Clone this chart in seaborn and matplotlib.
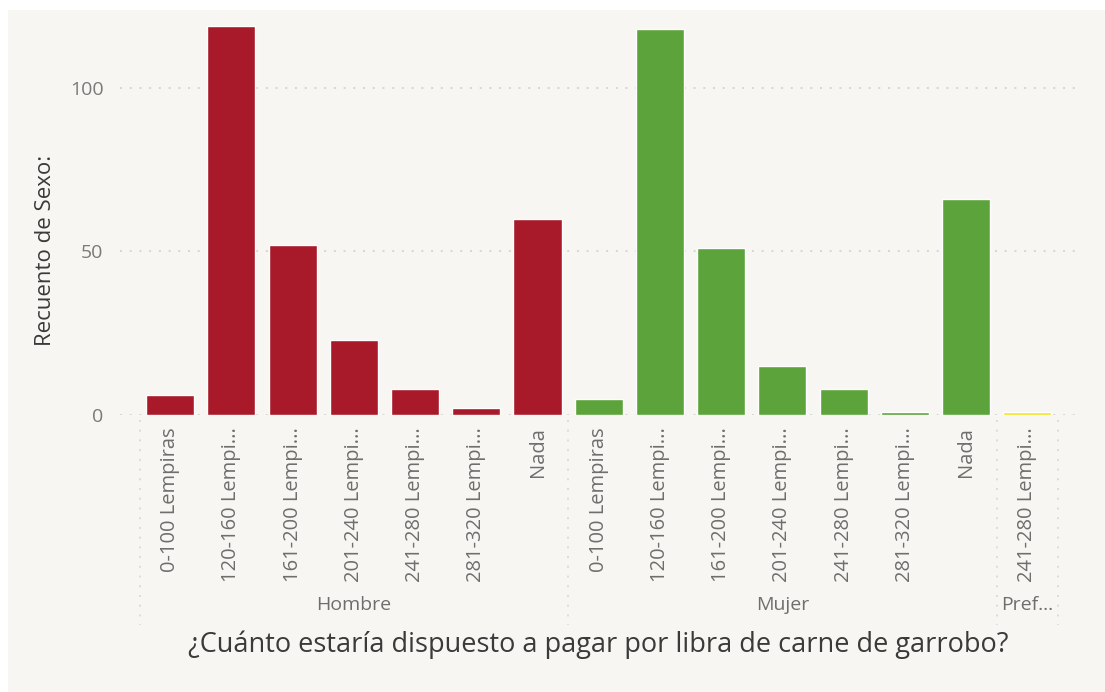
import matplotlib
matplotlib.use("Agg")
import matplotlib.pyplot as plt
import matplotlib.transforms as mtransforms
from matplotlib.patches import Rectangle
import seaborn as sns
import pandas as pd

# ---- data ----
hombre_cats = ["0-100 Lempiras", "120-160 Lempiras", "161-200 Lempiras", "201-240 Lempiras",
               "241-280 Lempiras", "281-320 Lempiras", "Nada"]
hombre_vals = [6, 119, 52, 23, 8, 2, 60]
mujer_cats = ["0-100 Lempiras", "120-160 Lempiras", "161-200 Lempiras", "201-240 Lempiras",
              "241-280 Lempiras", "281-320 Lempiras", "Nada"]
mujer_vals = [5, 118, 51, 15, 8, 1, 66]
pref_cats = ["241-280 Lempiras"]
pref_vals = [1]
group_names = ["Hombre", "Mujer", "Pref..."]
group_colors = ["#A81A29", "#5BA33A", "#F5E61E"]
y_ticks = [0, 50, 100]

groups = [(group_names[0], hombre_cats, hombre_vals),
          (group_names[1], mujer_cats, mujer_vals),
          (group_names[2], pref_cats, pref_vals)]
rows = []
for g, cats, vals in groups:
    for c, v in zip(cats, vals):
        rows.append({"key": f"{g}|{c}", "sexo": g, "cat": c, "count": v})
df = pd.DataFrame(rows)

def short(s, n=14):
    return s if len(s) <= n else s[:13] + "..."

sns.set_theme(style="white")
plt.rcParams["font.family"] = ["Open Sans", "DejaVu Sans"]

BG = "#F7F6F2"
fig = plt.figure(figsize=(11.05, 6.92), dpi=100, facecolor="white")
fig.patches.append(Rectangle((8 / 1105, 0), 1 - 8 / 1105, 1 - 10 / 692,
                             transform=fig.transFigure, facecolor=BG, edgecolor="none", zorder=-10))

ax = fig.add_axes([120 / 1105, (692 - 415) / 692, (1075 - 120) / 1105, (415 - 19.3) / 692])
ax.set_facecolor(BG)

sns.barplot(data=df, x="key", y="count", hue="sexo", order=list(df["key"]),
            palette=dict(zip(group_names, group_colors)), dodge=False,
            width=0.785, saturation=1, legend=False, ax=ax, zorder=3)

ax.set_xlim(-0.82, len(df) - 1 + 0.78)
ax.set_ylim(0, 121)
ax.set_yticks(y_ticks)
ax.set_yticklabels([str(t) for t in y_ticks], fontsize=14, color="#7a7a7a")
ax.tick_params(axis="y", length=0, pad=12)
ax.set_xticks(range(len(df)))
ax.set_xticklabels([short(c) for c in df["cat"]], rotation=90, fontsize=14.5,
                   color="#6e6e6e", va="top", ha="center")
ax.tick_params(axis="x", length=0, pad=9)
for sp in ax.spines.values():
    sp.set_visible(False)

for t in y_ticks:
    ax.axhline(t, color="#d6d6d6", linestyle=(0, (1, 4)), linewidth=1.4, zorder=1)

ax.set_xlabel("")
ax.set_ylabel("Recuento de Sexo:", fontsize=16, color="#3a3a3a")
ax_h = 415 - 19.3
ax.yaxis.set_label_coords(-(120 - 56) / (1075 - 120), (415 - 250) / ax_h)

# group separators and labels
trans = mtransforms.blended_transform_factory(ax.transData, ax.transAxes)
def ay(px):
    return -(px - 415) / ax_h

start = 0
bounds = [-0.5]
for g, cats, vals in groups:
    end = start + len(cats) - 1
    ax.text((start + end) / 2, ay(605), g, transform=trans, ha="center", va="center",
            fontsize=14, color="#6e6e6e")
    bounds.append(end + 0.5)
    start = end + 1
for b in bounds:
    ax.plot([b, b], [ay(420), ay(625)], transform=trans, clip_on=False,
            color="#dcdcdc", linestyle=(0, (1, 4)), linewidth=1.4)

fig.text(598 / 1105, 1 - 645 / 692, "¿Cuánto estaría dispuesto a pagar por libra de carne de garrobo?",
         ha="center", va="center", fontsize=19.5, color="#3a3a3a")

fig.savefig("out.png", dpi=100, facecolor="white")
